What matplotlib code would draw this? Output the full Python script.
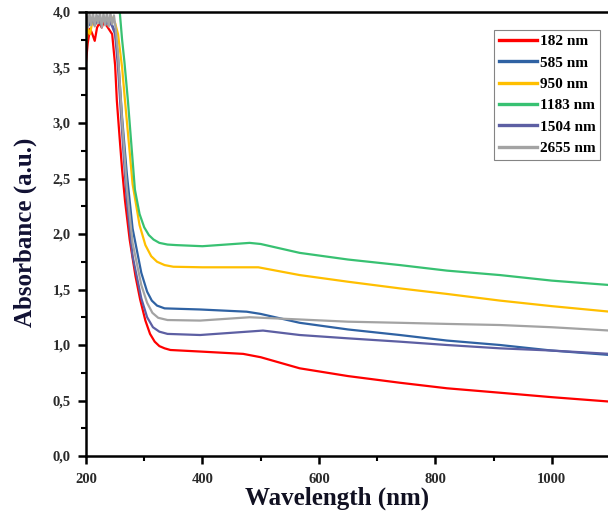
import matplotlib
matplotlib.use("Agg")
import matplotlib.pyplot as plt
from matplotlib.ticker import MultipleLocator, FuncFormatter

plt.rcParams['font.family'] = ['Liberation Serif', 'DejaVu Serif']

labels = ["182 nm", "585 nm", "950 nm", "1183 nm", "1504 nm", "2655 nm"]
colors = ["#ff0000", "#2f62a3", "#ffbf00", "#38c172", "#5d5fa3", "#a3a3a3"]

wl_red = [200, 203, 207, 211, 215, 219, 223, 227, 231, 235, 240, 245, 250, 253, 258, 262, 267, 275, 285, 293, 302, 310, 318, 326, 335, 345, 400, 470, 500, 567, 650, 739, 820, 911, 1000, 1100]
ab_red = [3.55, 3.72, 3.85, 3.80, 3.74, 3.86, 3.90, 3.86, 3.92, 3.88, 3.84, 3.80, 3.52, 3.20, 2.85, 2.58, 2.30, 1.95, 1.62, 1.41, 1.22, 1.10, 1.03, 0.99, 0.97, 0.955, 0.94, 0.92, 0.89, 0.79, 0.72, 0.66, 0.61, 0.57, 0.53, 0.49]

wl_blue = [200, 205, 210, 215, 220, 225, 230, 235, 240, 245, 250, 255, 262, 270, 280, 295, 305, 313, 322, 335, 396, 476, 500, 567, 650, 739, 820, 911, 1000, 1100]
ab_blue = [3.95, 3.88, 3.93, 3.90, 3.96, 3.89, 3.94, 3.91, 3.93, 3.88, 3.82, 3.60, 3.05, 2.55, 2.05, 1.65, 1.48, 1.40, 1.355, 1.33, 1.32, 1.30, 1.28, 1.20, 1.14, 1.09, 1.04, 1.00, 0.95, 0.91]

wl_orange = [200, 203, 207, 211, 215, 220, 225, 230, 235, 240, 245, 250, 255, 262, 267, 280, 292, 302, 312, 322, 335, 350, 400, 496, 567, 650, 739, 820, 911, 1000, 1100]
ab_orange = [3.68, 3.85, 3.80, 3.92, 3.88, 3.93, 3.90, 3.94, 3.89, 3.92, 3.95, 3.90, 3.80, 3.50, 3.20, 2.45, 2.08, 1.90, 1.80, 1.75, 1.72, 1.705, 1.70, 1.70, 1.63, 1.57, 1.51, 1.46, 1.40, 1.35, 1.30]

wl_green = [200, 220, 240, 258, 262, 266, 272, 284, 292, 300, 308, 316, 326, 340, 355, 400, 481, 500, 567, 650, 739, 820, 911, 1000, 1100]
ab_green = [4.00, 4.00, 4.00, 4.00, 3.75, 3.55, 3.20, 2.40, 2.18, 2.06, 1.99, 1.95, 1.92, 1.905, 1.90, 1.89, 1.92, 1.91, 1.83, 1.77, 1.72, 1.67, 1.63, 1.58, 1.54]

wl_purple = [200, 205, 210, 215, 220, 225, 230, 235, 240, 245, 250, 255, 262, 270, 280, 295, 305, 315, 326, 340, 396, 504, 567, 650, 739, 820, 911, 1000, 1100]
ab_purple = [3.96, 3.90, 3.94, 3.88, 3.93, 3.90, 3.95, 3.89, 3.92, 3.87, 3.80, 3.50, 2.92, 2.30, 1.80, 1.42, 1.25, 1.16, 1.12, 1.10, 1.09, 1.13, 1.09, 1.06, 1.03, 1.00, 0.97, 0.95, 0.92]

wl_gray = [200, 203, 206, 209, 212, 215, 218, 221, 224, 227, 230, 233, 236, 239, 242, 245, 248, 251, 255, 262, 270, 280, 295, 305, 314, 324, 340, 396, 481, 567, 650, 739, 820, 911, 1000, 1100]
ab_gray = [4.00, 3.86, 3.99, 3.88, 4.00, 3.87, 3.98, 3.90, 4.00, 3.86, 3.99, 3.88, 4.00, 3.87, 3.99, 3.89, 3.97, 3.85, 3.62, 3.02, 2.42, 1.92, 1.54, 1.38, 1.29, 1.245, 1.225, 1.22, 1.25, 1.23, 1.21, 1.20, 1.19, 1.18, 1.16, 1.13]

series = [(wl_red, ab_red), (wl_blue, ab_blue), (wl_orange, ab_orange),
          (wl_green, ab_green), (wl_purple, ab_purple), (wl_gray, ab_gray)]

fig = plt.figure(figsize=(6.08, 5.17), dpi=100)
ax = fig.add_axes([86/608, 1-456/517, (610-86)/608, (456-12)/517])

draw_order = [5, 3, 2, 1, 4, 0]
handles = [None]*6
for i in draw_order:
    x, y = series[i]
    h, = ax.plot(x, y, color=colors[i], lw=1.6, label=labels[i], zorder=2+i*0.1)
    handles[i] = h

ax.set_xlim(200, 1100)
ax.set_ylim(0, 4.0)
ax.xaxis.set_major_locator(MultipleLocator(200))
ax.xaxis.set_minor_locator(MultipleLocator(100))
ax.yaxis.set_major_locator(MultipleLocator(0.5))
ax.yaxis.set_minor_locator(MultipleLocator(0.25))
ax.yaxis.set_major_formatter(FuncFormatter(lambda v, p: f"{v:.1f}".replace('.', ',')))
ax.xaxis.set_major_formatter(FuncFormatter(lambda v, p: f"{int(v)}" if v < 1050 else ""))

for s in ['left', 'bottom', 'top']:
    ax.spines[s].set_linewidth(1.8)
ax.spines['right'].set_visible(False)
ax.tick_params(which='major', direction='out', length=6, width=1.8, labelsize=10.5)
ax.tick_params(axis='x', which='major', pad=6)
ax.tick_params(axis='y', which='major', pad=5)
ax.tick_params(which='minor', direction='out', length=3.5, width=1.5)
for lab in ax.get_xticklabels() + ax.get_yticklabels():
    lab.set_fontweight('bold')
    lab.set_color('#2a2a2a')

ax.set_xlabel("Wavelength (nm)", fontsize=18, fontweight='bold', color='#111122')
ax.set_ylabel("Absorbance (a.u.)", fontsize=18, fontweight='bold', color='#111133')
ax.xaxis.set_label_coords((337-86)/524, (456-487)/444)
ax.yaxis.set_label_coords((37-86)/524, (456-232)/444)

leg = fig.legend(handles=handles, labels=labels, loc='upper left',
                 bbox_to_anchor=(494/608, 1-30/517), frameon=True, fancybox=False,
                 prop={'weight': 'bold', 'size': 11}, handlelength=2.5, handletextpad=0.2,
                 labelspacing=0.5, borderpad=0.3, borderaxespad=0)
leg.get_frame().set_edgecolor('#666666')
leg.get_frame().set_linewidth(0.8)
for line in leg.get_lines():
    line.set_linewidth(2.4)

fig.savefig("out.png", dpi=100)
